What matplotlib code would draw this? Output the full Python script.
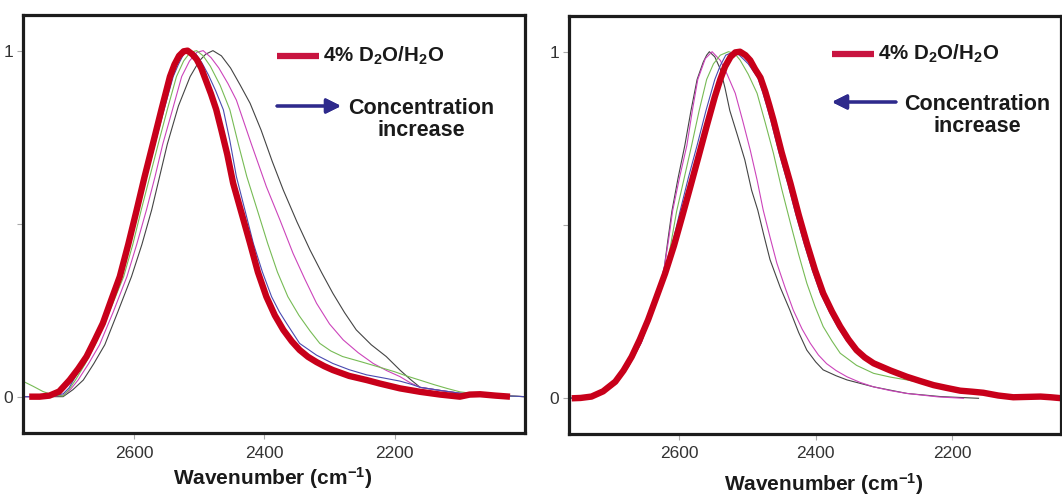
import matplotlib.pyplot as plt

plt.rcParams['font.family'] = ['Liberation Sans', 'DejaVu Sans']
plt.rcParams['mathtext.fontset'] = 'custom'
plt.rcParams['mathtext.rm'] = 'Liberation Sans:bold'
plt.rcParams['mathtext.bf'] = 'Liberation Sans:bold'
plt.rcParams['mathtext.default'] = 'rm'

# ---- left panel: peak moves to lower wavenumber with concentration ----
left_red_x = [2761, 2745, 2730, 2715, 2699, 2686, 2673, 2660, 2648, 2635, 2622, 2609, 2596, 2584,
              2571, 2558, 2545, 2538, 2531, 2524, 2518, 2511, 2504, 2497, 2490, 2482, 2474, 2466,
              2457, 2448, 2435, 2422, 2410, 2397, 2384, 2371, 2358, 2346, 2333, 2320, 2308, 2295,
              2270, 2243, 2223, 2192, 2161, 2130, 2100, 2085, 2069, 2045, 2023]
left_red_y = [0, 0, 0.003, 0.015, 0.048, 0.08, 0.116, 0.165, 0.212, 0.28, 0.347, 0.44, 0.54, 0.635,
              0.732, 0.83, 0.925, 0.96, 0.985, 0.998, 1.0, 0.99, 0.975, 0.95, 0.915, 0.875, 0.83, 0.77,
              0.70, 0.617, 0.53, 0.443, 0.36, 0.289, 0.235, 0.193, 0.16, 0.135, 0.115, 0.10, 0.088, 0.077,
              0.06, 0.048, 0.038, 0.024, 0.014, 0.006, 0.0, 0.006, 0.007, 0.003, 0.0]

left_blue_x = [2771, 2735, 2709, 2700, 2694, 2678, 2662, 2640, 2619, 2607, 2594, 2581, 2568, 2554,
               2540, 2532, 2524, 2514, 2505, 2496, 2486, 2475, 2463, 2453, 2443, 2430, 2417, 2403,
               2389, 2377, 2366, 2346, 2320, 2295, 2270, 2243, 2217, 2192, 2175, 2161, 2130, 2100,
               2050, 2000]
left_blue_y = [0, 0, 0.008, 0.025, 0.045, 0.095, 0.15, 0.245, 0.347, 0.44, 0.54, 0.635, 0.73, 0.83,
               0.925, 0.96, 0.99, 1.0, 0.99, 0.965, 0.93, 0.885, 0.829, 0.74, 0.636, 0.54, 0.443, 0.36,
               0.289, 0.245, 0.212, 0.154, 0.12, 0.096, 0.078, 0.063, 0.054, 0.045, 0.036, 0.027, 0.018, 0.01,
               0.004, 0]

left_green_x = [2771, 2755, 2740, 2725, 2709, 2700, 2690, 2675, 2660, 2638, 2616, 2602, 2589, 2576,
                2563, 2549, 2535, 2524, 2514, 2504, 2494, 2483, 2468, 2453, 2440, 2427, 2411, 2395,
                2380, 2364, 2347, 2330, 2315, 2298, 2280, 2250, 2223, 2200, 2182, 2160, 2140, 2120,
                2100, 2075, 2050, 2000]
left_green_y = [0.045, 0.03, 0.015, 0.005, 0.002, 0.02, 0.048, 0.095, 0.15, 0.245, 0.347, 0.44, 0.54, 0.635,
                0.73, 0.83, 0.925, 0.97, 0.995, 1.0, 0.985, 0.955, 0.90, 0.829, 0.73, 0.636, 0.54, 0.443,
                0.36, 0.289, 0.235, 0.19, 0.154, 0.132, 0.116, 0.10, 0.085, 0.072, 0.06, 0.047, 0.035, 0.024,
                0.014, 0.008, 0.004, 0]

left_magenta_x = [2771, 2740, 2709, 2698, 2686, 2670, 2653, 2632, 2611, 2596, 2581, 2568, 2556, 2541,
                  2527, 2515, 2504, 2494, 2482, 2470, 2456, 2443, 2420, 2397, 2376, 2356, 2338, 2320,
                  2300, 2279, 2256, 2233, 2212, 2192, 2176, 2161, 2130, 2100, 2050, 2000]
left_magenta_y = [0, 0, 0.004, 0.02, 0.048, 0.095, 0.15, 0.245, 0.347, 0.44, 0.54, 0.635, 0.73, 0.83,
                  0.925, 0.97, 0.995, 1.0, 0.98, 0.95, 0.905, 0.857, 0.73, 0.607, 0.51, 0.414, 0.34, 0.27,
                  0.21, 0.164, 0.127, 0.096, 0.075, 0.058, 0.04, 0.027, 0.018, 0.01, 0.004, 0]

left_black_x = [2771, 2740, 2709, 2694, 2678, 2662, 2645, 2625, 2604, 2588, 2573, 2561, 2549, 2532,
                2514, 2500, 2490, 2479, 2466, 2452, 2437, 2422, 2405, 2388, 2371, 2350, 2330, 2312,
                2295, 2277, 2259, 2236, 2213, 2192, 2176, 2161, 2130, 2100, 2050, 2000]
left_black_y = [0, 0, 0, 0.02, 0.048, 0.095, 0.15, 0.245, 0.347, 0.44, 0.54, 0.635, 0.73, 0.84,
                0.925, 0.97, 0.99, 1.0, 0.985, 0.95, 0.90, 0.848, 0.77, 0.68, 0.597, 0.505, 0.424, 0.358,
                0.299, 0.243, 0.193, 0.15, 0.116, 0.077, 0.05, 0.027, 0.018, 0.01, 0.004, 0]

# ---- right panel: peak moves to higher wavenumber with concentration ----
right_red_x = [2758, 2745, 2729, 2712, 2694, 2682, 2670, 2658, 2646, 2634, 2621, 2608, 2596, 2584,
               2572, 2560, 2548, 2540, 2533, 2525, 2518, 2511, 2503, 2496, 2489, 2481, 2474, 2468,
               2462, 2450, 2437, 2425, 2413, 2401, 2389, 2376, 2364, 2352, 2340, 2328, 2315, 2290,
               2266, 2247, 2227, 2208, 2188, 2170, 2154, 2132, 2110, 2090, 2070, 2055, 2038]
right_red_y = [0, 0.001, 0.005, 0.02, 0.048, 0.08, 0.12, 0.17, 0.226, 0.29, 0.36, 0.44, 0.524, 0.61,
               0.697, 0.785, 0.87, 0.92, 0.957, 0.985, 0.998, 1.0, 0.99, 0.975, 0.95, 0.925, 0.885, 0.845,
               0.803, 0.71, 0.62, 0.53, 0.447, 0.37, 0.303, 0.25, 0.207, 0.17, 0.139, 0.118, 0.101, 0.08,
               0.062, 0.05, 0.038, 0.03, 0.022, 0.019, 0.016, 0.008, 0.003, 0.004, 0.005, 0.003, 0]

right_blue_x = [2762, 2729, 2712, 2694, 2670, 2646, 2623, 2611, 2599, 2587, 2574, 2561, 2548, 2540,
                2532, 2520, 2512, 2499, 2485, 2478, 2472, 2466, 2454, 2441, 2429, 2417, 2405, 2393,
                2380, 2368, 2356, 2344, 2332, 2319, 2294, 2270, 2230, 2192, 2160]
right_blue_y = [0, 0.005, 0.02, 0.05, 0.12, 0.23, 0.35, 0.44, 0.54, 0.635, 0.73, 0.83, 0.92, 0.96,
                0.99, 1.0, 0.99, 0.965, 0.925, 0.885, 0.845, 0.803, 0.71, 0.62, 0.53, 0.447, 0.37, 0.303,
                0.25, 0.207, 0.17, 0.139, 0.118, 0.101, 0.08, 0.062, 0.038, 0.022, 0.016]

right_green_x = [2762, 2729, 2712, 2694, 2682, 2670, 2646, 2623, 2613, 2604, 2593, 2582, 2571, 2560,
                 2550, 2540, 2528, 2519, 2511, 2499, 2486, 2474, 2462, 2450, 2437, 2425, 2413, 2401,
                 2389, 2376, 2364, 2340, 2315, 2290, 2266, 2240, 2217, 2188, 2160]
right_green_y = [0, 0.005, 0.02, 0.05, 0.08, 0.12, 0.235, 0.35, 0.44, 0.54, 0.635, 0.73, 0.83, 0.92,
                 0.965, 0.99, 1.0, 0.995, 0.976, 0.935, 0.88, 0.795, 0.707, 0.605, 0.505, 0.415, 0.332, 0.265,
                 0.207, 0.165, 0.13, 0.095, 0.072, 0.061, 0.053, 0.043, 0.033, 0.02, 0.014]

right_magenta_x = [2762, 2729, 2712, 2694, 2675, 2656, 2640, 2629, 2622, 2616, 2610, 2600, 2589, 2581,
                   2573, 2562, 2552, 2540, 2530, 2518, 2507, 2496, 2486, 2477, 2467, 2457, 2445, 2433,
                   2420, 2408, 2396, 2384, 2370, 2354, 2335, 2315, 2290, 2266, 2220, 2183]
right_magenta_y = [0, 0.003, 0.015, 0.045, 0.095, 0.16, 0.25, 0.32, 0.38, 0.455, 0.54, 0.635, 0.73, 0.83,
                   0.92, 0.98, 1.0, 0.975, 0.935, 0.88, 0.80, 0.716, 0.63, 0.543, 0.465, 0.39, 0.32, 0.255,
                   0.2, 0.159, 0.125, 0.1, 0.08, 0.062, 0.046, 0.033, 0.022, 0.014, 0.004, 0]

right_black_x = [2762, 2745, 2729, 2712, 2694, 2675, 2656, 2640, 2629, 2622, 2617, 2611, 2602, 2592,
                 2583, 2574, 2565, 2560, 2556, 2548, 2540, 2533, 2526, 2515, 2504, 2494, 2485, 2476,
                 2467, 2452, 2438, 2425, 2413, 2400, 2389, 2370, 2354, 2315, 2266, 2217, 2161]
right_black_y = [0, 0, 0.003, 0.015, 0.04, 0.09, 0.16, 0.25, 0.32, 0.38, 0.455, 0.54, 0.635, 0.73,
                 0.83, 0.92, 0.97, 0.99, 1.0, 0.985, 0.95, 0.895, 0.83, 0.76, 0.688, 0.60, 0.543, 0.47,
                 0.40, 0.32, 0.255, 0.19, 0.139, 0.105, 0.082, 0.065, 0.053, 0.033, 0.014, 0.005, 0]

x_ticks = [2600, 2400, 2200]
x_tick_labels = ['2600', '2400', '2200']
y_ticks = [0, 0.5, 1]
y_tick_labels = ['0', '', '1']

legend_label = r'4% D$_2$O/H$_2$O'
arrow_lines = ['Concentration', 'increase']
x_label = r'Wavenumber (cm$^{-1}$)'

RED = '#c8001a'
W, H = 1062, 495


def fx(px):
    return px / W


def fy(py):
    return 1 - py / H


def style_axes(ax, xlim, ylim):
    ax.set_xlim(*xlim)
    ax.set_ylim(*ylim)
    ax.set_xticks(x_ticks)
    ax.set_xticklabels(x_tick_labels)
    ax.set_yticks(y_ticks)
    ax.set_yticklabels(y_tick_labels)
    ax.tick_params(axis='both', length=4, width=0.8, color='#aaaaaa',
                   labelsize=12.5, labelcolor='#333333')
    ax.tick_params(axis='x', pad=5)
    ax.tick_params(axis='y', pad=3)
    for s in ax.spines.values():
        s.set_linewidth(2.3)
        s.set_color('#1c1c1c')


def draw_curves(ax, curves, red):
    for xs, ys, c in curves:
        ax.plot(xs, ys, color=c, lw=0.8)
    ax.plot(red[0], red[1], color=RED, lw=4.6, solid_capstyle='butt', solid_joinstyle='round')


fig = plt.figure(figsize=(W / 100, H / 100), dpi=100)

ax1 = fig.add_axes([fx(22.7), fy(433), fx(525 - 22.7), (433 - 15) / H])
draw_curves(ax1, [
    (left_black_x, left_black_y, '#444444'),
    (left_magenta_x, left_magenta_y, '#cc44bb'),
    (left_green_x, left_green_y, '#77bb55'),
    (left_blue_x, left_blue_y, '#4a4ab0'),
], (left_red_x, left_red_y))
style_axes(ax1, (2771, 2000), (-0.105, 1.103))

ax2 = fig.add_axes([fx(569), fy(434), fx(1061 - 569), (434 - 16) / H])
draw_curves(ax2, [
    (right_black_x, right_black_y, '#444444'),
    (right_magenta_x, right_magenta_y, '#cc44bb'),
    (right_green_x, right_green_y, '#77bb55'),
    (right_blue_x, right_blue_y, '#4a4ab0'),
], (right_red_x, right_red_y))
style_axes(ax2, (2762, 2040), (-0.103, 1.103))


def annotations(x0, y_leg, y_arr, arrow_right, text_cx):
    fig.add_artist(plt.Line2D([fx(x0), fx(x0 + 42)], [fy(y_leg), fy(y_leg)],
                              color='#c81440', lw=4.5, solid_capstyle='butt'))
    fig.text(fx(x0 + 46), fy(y_leg), legend_label, fontsize=14.8, fontweight='bold',
             color='#1a1a1a', va='center', ha='left')
    if arrow_right:
        start, end = (fx(x0), fy(y_arr)), (fx(x0 + 64), fy(y_arr))
    else:
        start, end = (fx(x0 + 64), fy(y_arr)), (fx(x0), fy(y_arr))
    fig.add_artist(plt.annotate('', xy=end, xytext=start, xycoords='figure fraction',
                                arrowprops=dict(arrowstyle='-|>', color='#2e2a8c', lw=2.2,
                                                mutation_scale=22, shrinkA=0, shrinkB=0)))
    for i, line in enumerate(arrow_lines):
        fig.text(fx(text_cx), fy(y_arr + 2 + 23 * i), line, fontsize=15.5, fontweight='bold',
                 color='#1a1a1a', va='center', ha='center')


annotations(277, 56, 106, True, 421)
annotations(832, 54, 102, False, 977)

fig.text(fx(273), fy(478), x_label, fontsize=15, fontweight='bold', color='#1a1a1a',
         ha='center', va='center')
fig.text(fx(824), fy(484), x_label, fontsize=15, fontweight='bold', color='#1a1a1a',
         ha='center', va='center')

fig.savefig('out.png', dpi=100)
